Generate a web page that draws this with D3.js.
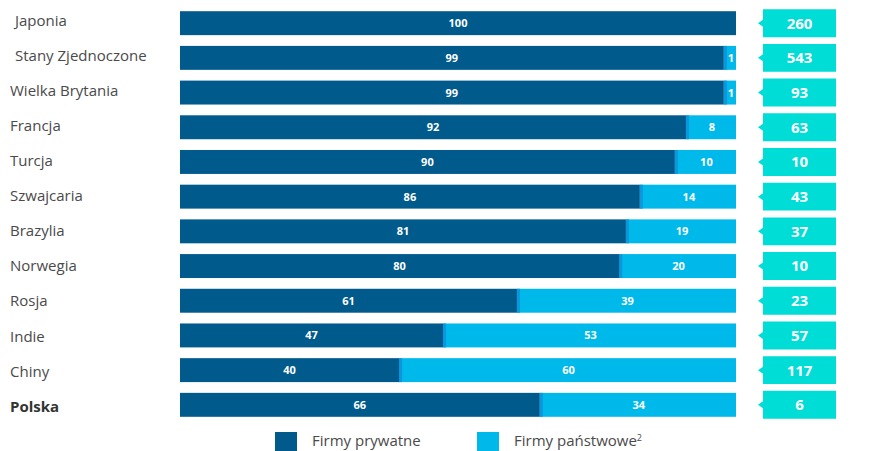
<!DOCTYPE html>
<html><head><meta charset="utf-8">
<script src="https://cdn.jsdelivr.net/npm/d3@7"></script>
<style>body{margin:0;background:#fff}svg{display:block}</style>
</head><body>
<svg id="c" width="873" height="451"></svg>
<script>
const countries = ["Japonia"," Stany Zjednoczone","Wielka Brytania","Francja","Turcja","Szwajcaria","Brazylia","Norwegia","Rosja","Indie","Chiny","Polska"];
// labelled shares (%)
const privateShare = [100,99,99,92,90,86,81,80,61,47,40,66];
const stateShare = [0,1,1,8,10,14,19,20,39,53,60,34];
// bar lengths as drawn in the reference (% of the full bar)
const privateBar = [100,97.8,97.8,91.0,89.0,82.7,80.2,79.0,60.6,47.3,39.4,64.7];
const companyCounts = [260,543,93,63,10,43,37,10,23,57,117,6];
const legendLabels = ["Firmy prywatne","Firmy państwowe"];

const svg = d3.select("#c");
const font = "'Open Sans', sans-serif";
const cDark = "#005a8c", cLight = "#00b9eb", cMid = "#0a97dd", cBadge = "#00dcd6";

const x = d3.scaleLinear().domain([0,100]).range([180,736]);
const y = d3.scaleBand().domain(d3.range(countries.length)).range([6,422]).paddingInner(0.31).paddingOuter(0.15);

const rows = svg.selectAll("g.row").data(countries).join("g").attr("class","row");

rows.append("text")
  .attr("x",(d,i)=> i<2 ? 15 : 10)
  .attr("y",(d,i)=>y(i)+y.bandwidth()/2+2.4+i*0.42)
  .attr("font-family",font).attr("font-size",15)
  .attr("font-weight",(d)=> d==="Polska" ? 700 : 400)
  .attr("fill",(d)=> d==="Polska" ? "#333" : "#4a4a4a")
  .text(d=>d.trim());

rows.append("rect")
  .attr("x",(d,i)=>x(privateBar[i])).attr("y",(d,i)=>y(i))
  .attr("width",(d,i)=>x(100)-x(privateBar[i])).attr("height",y.bandwidth())
  .attr("fill",cLight);
rows.filter((d,i)=>privateBar[countries.indexOf(d)]<100).append("rect")
  .attr("x",d=>x(privateBar[countries.indexOf(d)])).attr("y",d=>y(countries.indexOf(d)))
  .attr("width",3).attr("height",y.bandwidth())
  .attr("fill",cMid);
rows.append("rect")
  .attr("x",x(0)).attr("y",(d,i)=>y(i))
  .attr("width",(d,i)=>x(privateBar[i])-x(0)).attr("height",y.bandwidth())
  .attr("fill",cDark);

rows.append("text")
  .attr("x",(d,i)=>(x(0)+x(privateBar[i]))/2)
  .attr("y",(d,i)=>y(i)+y.bandwidth()/2).attr("dy","0.36em")
  .attr("text-anchor","middle").attr("font-family",font).attr("font-size",11).attr("font-weight",700)
  .attr("fill","#fff").text((d,i)=>privateShare[i]);
rows.filter(d=>stateShare[countries.indexOf(d)]>0).append("text")
  .attr("x",d=>(x(privateBar[countries.indexOf(d)])+x(100))/2+1)
  .attr("y",d=>y(countries.indexOf(d))+y.bandwidth()/2).attr("dy","0.36em")
  .attr("text-anchor","middle").attr("font-family",font).attr("font-size",11).attr("font-weight",700)
  .attr("fill","#fff").text(d=>stateShare[countries.indexOf(d)]);

// badges
const bx0 = 763, bx1 = 836;
rows.append("path")
  .attr("d",(d,i)=>{
    const t = y(i)-2, b = y(i)+y.bandwidth()+2, m = y(i)+y.bandwidth()/2;
    return `M${bx0},${t}H${bx1}V${b}H${bx0}V${m+3.5}L${bx0-5},${m}L${bx0},${m-3.5}Z`;
  })
  .attr("fill",cBadge);
rows.append("text")
  .attr("x",(bx0+bx1)/2).attr("y",(d,i)=>y(i)+y.bandwidth()/2).attr("dy","0.36em")
  .attr("text-anchor","middle").attr("font-family",font).attr("font-size",15).attr("font-weight",700)
  .attr("fill","#fff").text((d,i)=>companyCounts[i]);

// legend
const lg = svg.append("g");
const lx = [275,477];
[cDark,cLight].forEach((c,i)=>{
  lg.append("rect").attr("x",lx[i]).attr("y",432).attr("width",22).attr("height",19).attr("fill",c);
  const t = lg.append("text").attr("x",lx[i]+37).attr("y",446)
    .attr("font-family",font).attr("font-size",15).attr("fill","#4a4a4a").text(legendLabels[i]);
  if(i===1) t.append("tspan").attr("font-size",9).attr("dy",-5).text("2");
});
</script>
</body></html>
